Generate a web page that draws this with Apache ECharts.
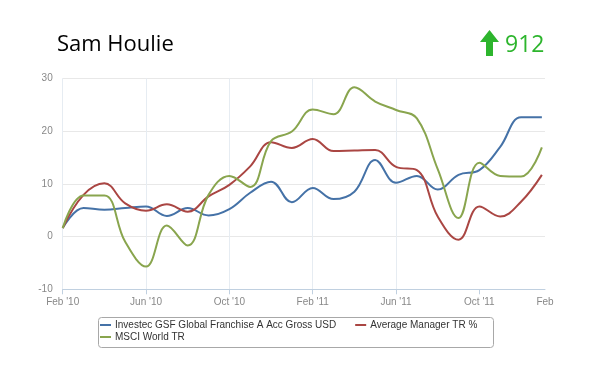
<!DOCTYPE html>
<html><head><meta charset="utf-8">
<script src="https://cdn.jsdelivr.net/npm/echarts@6/dist/echarts.min.js"></script>
<style>html,body{margin:0;padding:0;background:#fff}#c{width:600px;height:385px}</style>
</head><body><div id="c"></div>
<script>
// Monthly observations Feb 2010 .. Jan 2012
const months = ["Feb '10","Mar '10","Apr '10","May '10","Jun '10","Jul '10","Aug '10","Sep '10","Oct '10","Nov '10","Dec '10","Jan '11",
                "Feb '11","Mar '11","Apr '11","May '11","Jun '11","Jul '11","Aug '11","Sep '11","Oct '11","Nov '11","Dec '11","Jan '12"];
const investec = [1.6, 5.4, 5.1, 5.4, 5.7, 3.9, 5.4, 4.0, 5.2, 8.3, 10.4, 6.5, 9.2, 7.1, 8.5, 14.5, 10.2, 11.5, 8.9, 11.7, 12.6, 17.0, 22.6, 22.6];
const avgManager = [1.6, 7.9, 10.1, 6.3, 4.9, 6.1, 4.7, 7.6, 9.8, 13.3, 17.9, 16.8, 18.5, 16.2, 16.3, 16.4, 13.2, 12.6, 3.8, -0.6, 5.7, 3.8, 6.6, 11.7];
const msci = [1.6, 7.8, 7.8, -1.0, -5.7, 2.1, -1.7, 7.9, 11.5, 9.4, 18.1, 19.9, 24.1, 23.2, 28.3, 25.6, 24.0, 22.4, 12.8, 3.5, 14.0, 11.5, 11.4, 16.9];
const seriesNames = ["Investec GSF Global Franchise A Acc Gross USD", "Average Manager TR %", "MSCI World TR"];
const xTickLabels = ["Feb '10","Jun '10","Oct '10","Feb '11","Jun '11","Oct '11","Feb"];
const yTicks = [-10, 0, 10, 20, 30];
const title = "Sam Houlie";
const scoreValue = "912";

const colors = ['#4572A7', '#AA4643', '#89A54E'];
const xMax = 23.15;
const tickPos = [0, 4, 8, 12, 16, 20];
function toPairs(arr){ return arr.map((v,i)=>[i,v]); }

const chart = echarts.init(document.getElementById('c'), null, {renderer:'canvas'});
const lineStyle = (c)=>({color:c, width:2});
chart.setOption({
  animation:false,
  color: colors,
  grid:{left:62.7, right:55, top:78.3, bottom:95.7, containLabel:false},
  xAxis:{
    type:'value', min:0, max:xMax, interval:4,
    axisLine:{show:true, onZero:false, lineStyle:{color:'#C0D0E0', width:1}},
    axisTick:{show:true, length:5, lineStyle:{color:'#C0D0E0'}, customValues: tickPos},
    axisLabel:{color:'#888', fontSize:10, fontFamily:'Liberation Sans, Arial, sans-serif', margin:8,
      customValues: tickPos.concat([xMax]),
      formatter:(v)=> v > 22 ? xTickLabels[xTickLabels.length-1] : xTickLabels[Math.round(v/4)]},
    splitLine:{show:true, showMaxLine:false, lineStyle:{color:'#E6ECF2', width:1}}
  },
  yAxis:{
    type:'value', min:yTicks[0], max:yTicks[yTicks.length-1], interval:10,
    axisLine:{show:false}, axisTick:{show:false},
    axisLabel:{color:'#888', fontSize:10, fontFamily:'Liberation Sans, Arial, sans-serif', margin:10},
    splitLine:{show:true, lineStyle:{color:'#E8E8E8', width:1}}
  },
  legend:[
    {data:[seriesNames[0], seriesNames[1]], left:100, top:320, padding:0, itemGap:19, itemWidth:11, itemHeight:2,
     icon:'rect', textStyle:{fontSize:10, color:'#333', fontFamily:'Liberation Sans, Arial, sans-serif', padding:[0,0,0,-1]}},
    {data:[seriesNames[2]], left:100, top:332, padding:0, itemWidth:11, itemHeight:2,
     icon:'rect', textStyle:{fontSize:10, color:'#333', fontFamily:'Liberation Sans, Arial, sans-serif', padding:[0,0,0,-1]}}
  ],
  graphic:[
    {type:'rect', shape:{x:98.5, y:317.5, width:395, height:30, r:3}, style:{fill:'none', stroke:'#A8A8A8', lineWidth:1}, z:-1},
    {type:'text', left:57, top:34, style:{text:title, font:'22px "Open Sans", sans-serif', fill:'#000'}},
    {type:'text', left:505, top:34, style:{text:scoreValue, font:'23px "Open Sans", sans-serif', fill:'#2DB52D'}},
    {type:'polygon', shape:{points:[[489.5,30],[499,42],[493,42],[493,56],[486,56],[486,42],[480,42]]}, style:{fill:'#2DB52D'}}
  ],
  series:[
    {name:seriesNames[0], type:'line', data:toPairs(investec), smooth:0.4, showSymbol:false, lineStyle:lineStyle(colors[0])},
    {name:seriesNames[1], type:'line', data:toPairs(avgManager), smooth:0.4, showSymbol:false, lineStyle:lineStyle(colors[1])},
    {name:seriesNames[2], type:'line', data:toPairs(msci), smooth:0.4, showSymbol:false, lineStyle:lineStyle(colors[2])}
  ]
});
</script></body></html>
